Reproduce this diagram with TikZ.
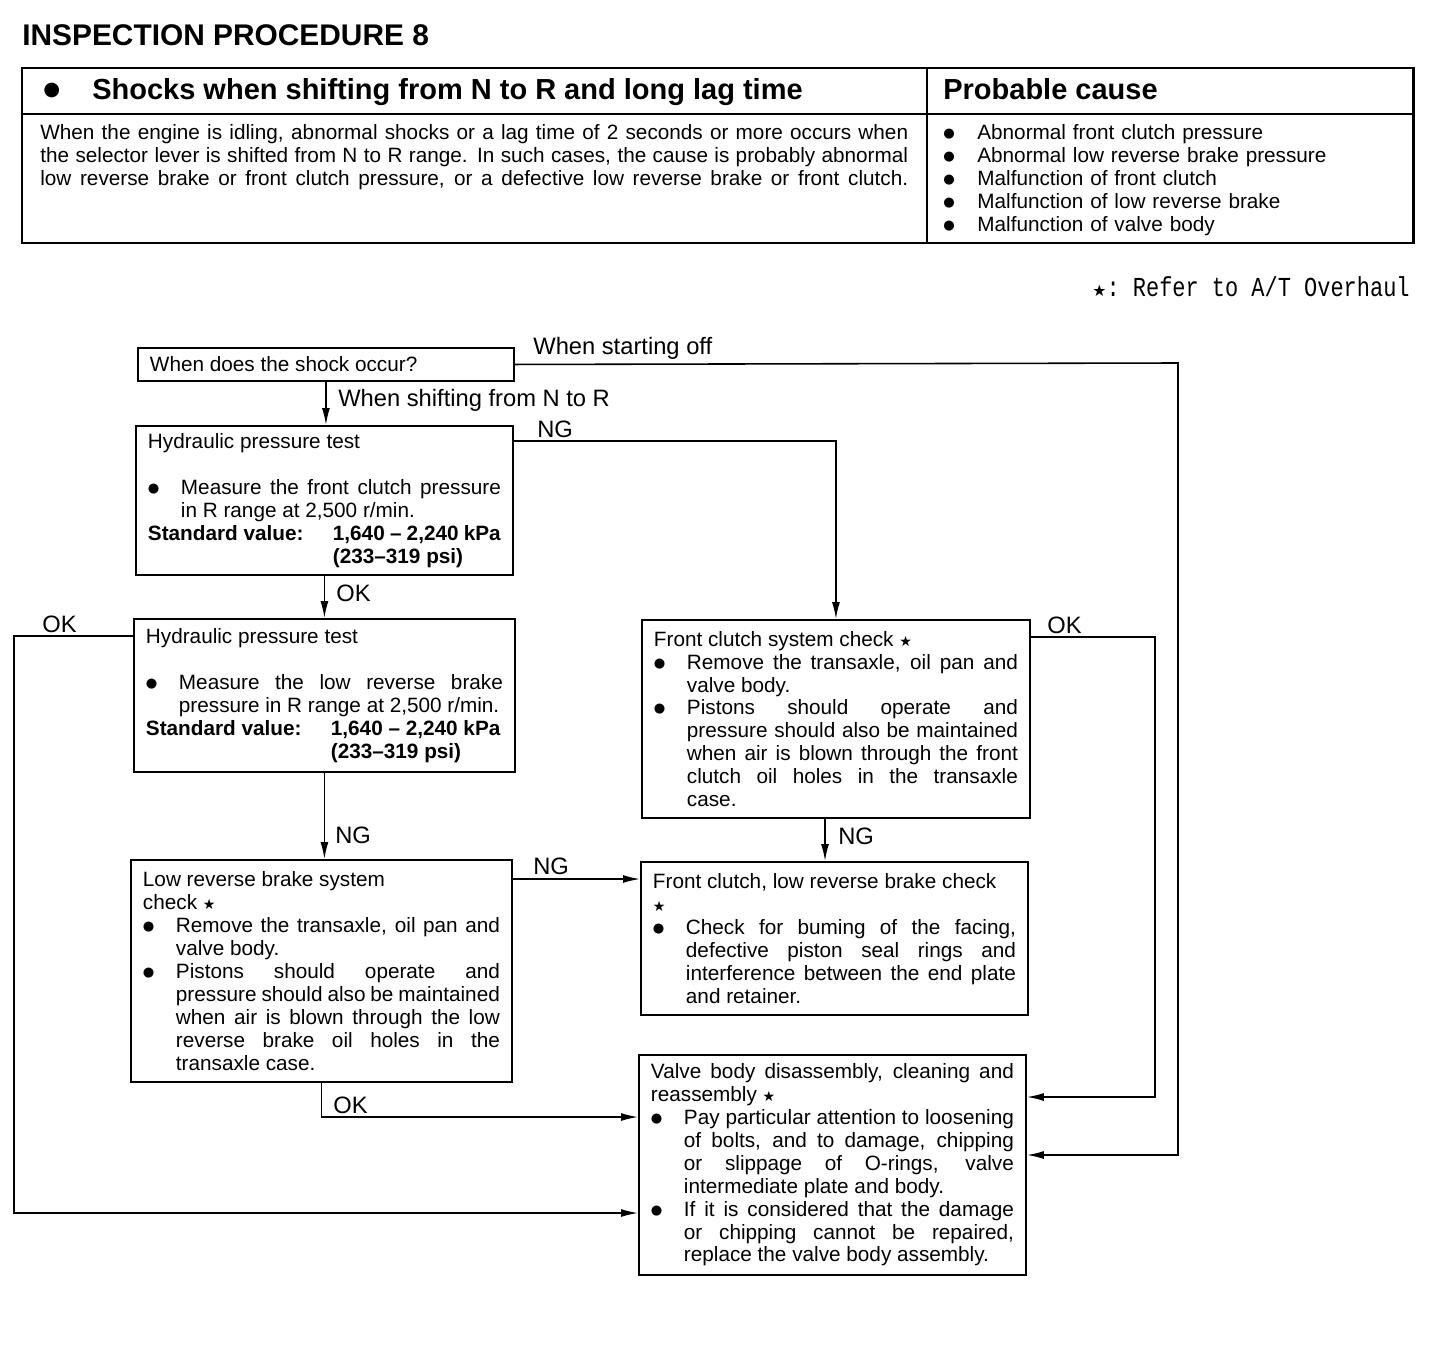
\documentclass[tikz,border=0pt]{standalone}
\usepackage{fontspec}
\setmainfont{Liberation Sans}
\setmonofont{Liberation Mono}
\newfontfamily\symfont{DejaVu Sans}
\usetikzlibrary{arrows.meta,calc}
\setlength{\parindent}{0pt}
\newcommand{\refstar}{{\symfont\fontsize{8}{8}\selectfont ★}}
\newcommand{\bdot}{\raisebox{1.1pt}{\symfont\fontsize{7.5}{7.5}\selectfont ●}}
\newcommand{\bitem}{\par\noindent\hangindent=0.66cm\hangafter=1\makebox[0.66cm][l]{\bdot}\ignorespaces}
\newcommand{\stdval}{\par\noindent\makebox[3.7cm][l]{\textbf{Standard value:}}\textbf{1,640 – 2,240 kPa}\\\hspace*{3.7cm}\textbf{(233–319 psi)}}

\begin{document}
\begin{tikzpicture}[x=0.02cm,y=-0.02cm,
  box/.style={draw,line width=1.1pt,anchor=north west,inner xsep=0.24cm,inner ysep=0pt,
    align=justify,font=\fontsize{11.8}{13.04}\selectfont},
  lbl/.style={anchor=base west,inner sep=0pt,font=\fontsize{13.5}{16}\selectfont},
  flow/.style={line width=0.9pt,-{Latex[length=0.34cm,width=0.16cm]}}]
\useasboundingbox (0,0) rectangle (1456,1362);
% heading and table
\node[anchor=base west,inner sep=0pt,font=\fontsize{17}{20}\selectfont\bfseries] (title) at (22,46) {INSPECTION\ PROCEDURE\ 8};
\draw[line width=1.7pt] (22,68) rectangle (1413,243);
\draw[line width=1pt] (22,114) -- (1413,114);
\draw[line width=1pt] (927,68) -- (927,243);
\node[anchor=base west,inner sep=0pt,font=\fontsize{16.5}{20}\selectfont\bfseries] (symptom) at (43,99) {\makebox[0.98cm][l]{\raisebox{1.8pt}{\symfont\fontsize{11}{11}\selectfont ●}}Shocks when shifting from N to R and long lag time};
\node[anchor=base west,inner sep=0pt,font=\fontsize{16.5}{20}\selectfont\bfseries] (cause) at (943,99) {Probable cause};
\node[anchor=north west,inner sep=0pt,text width=17.36cm,align=justify,font=\fontsize{11.8}{13.04}\selectfont] (descr) at (40,124)
  {\parfillskip=0pt When the engine is idling, abnormal shocks or a lag time of 2 seconds or more occurs when\linebreak
   the selector lever is shifted from N to R range. In such cases, the cause is probably abnormal\linebreak
   low reverse brake or front clutch pressure, or a defective low reverse brake or front clutch.\par};
\node[anchor=north west,inner sep=0pt,text width=9.2cm,align=left,font=\fontsize{11.8}{13.04}\selectfont] (causes) at (943,124)
  {\makebox[0.68cm][l]{\bdot}Abnormal front clutch pressure\\
   \makebox[0.68cm][l]{\bdot}Abnormal low reverse brake pressure\\
   \makebox[0.68cm][l]{\bdot}Malfunction of front clutch\\
   \makebox[0.68cm][l]{\bdot}Malfunction of low reverse brake\\
   \makebox[0.68cm][l]{\bdot}Malfunction of valve body};
\node[anchor=base east,inner sep=0pt] (note) at (1410,296)
  {{\symfont\fontsize{9}{9}\selectfont ★}\scalebox{1}[1.25]{\ttfamily\fontsize{12.5}{14}\selectfont : Refer to A/T Overhaul}};
% flowchart boxes
\node[box,text width=7.04cm,minimum height=0.66cm] (when) at (137,347) {When does the shock occur?};
\node[box,text width=7.06cm,minimum height=2.98cm] (hp1) at (135,425)
  {Hydraulic pressure test\par\mbox{}
   \bitem Measure the front clutch pressure\linebreak in R range at 2,500 r/min.
   \stdval\par};
\node[box,text width=7.14cm,minimum height=3.06cm] (hp2) at (133,618)
  {Hydraulic pressure test\par\mbox{}
   \bitem Measure the low reverse brake\linebreak pressure in R range at 2,500 r/min.
   \stdval\par};
\node[box,text width=7.14cm,minimum height=4.44cm] (lrb) at (130,859)
  {Low reverse brake system\\ check \refstar
   \bitem Remove the transaxle, oil pan and\linebreak valve body.
   \bitem Pistons should operate and\linebreak pressure should also be maintained\linebreak
   when air is blown through the low\linebreak reverse brake oil holes in the\linebreak transaxle case.\par};
\node[box,text width=7.28cm,minimum height=3.96cm] (fcs) at (641,619)
  {Front clutch system check \refstar
   \bitem Remove the transaxle, oil pan and\linebreak valve body.
   \bitem Pistons should operate and\linebreak pressure should also be maintained\linebreak
   when air is blown through the front\linebreak clutch oil holes in the transaxle\linebreak case.\par};
\node[box,text width=7.26cm,minimum height=3.06cm] (fclr) at (640,861)
  {Front clutch, low reverse brake check\\ \refstar
   \bitem Check for buming of the facing,\linebreak defective piston seal rings and\linebreak
   interference between the end plate\linebreak and retainer.\par};
\node[box,text width=7.26cm,minimum height=4.40cm] (vb) at (638,1054)
  {Valve body disassembly, cleaning and\linebreak reassembly \refstar
   \bitem Pay particular attention to loosening\linebreak of bolts, and to damage, chipping\linebreak
   or slippage of O-rings, valve\linebreak intermediate plate and body.
   \bitem If it is considered that the damage\linebreak or chipping cannot be repaired,\linebreak
   replace the valve body assembly.\par};
% connectors
\coordinate (startR) at (1178,363);
\coordinate (okL) at (14,636);
\coordinate (okR) at (1155,637);
\coordinate (fcsB) at ($(fcs.south west)+(184,0)$);
\draw[flow] (when.east) -- (startR) |- ($(vb.north east)+(0,101)$);
\draw[flow] (when.south) -- (when.south |- hp1.north);
\draw[flow] ($(hp1.north east)+(0,16)$) -| (fcs.north);
\draw[flow] (hp1.south) -- (hp1.south |- hp2.north);
\draw[flow] ($(hp2.north west)+(0,18)$) -- (okL) |- ($(vb.north west)+(0,159)$);
\draw[flow] (hp2.south) -- (hp2.south |- lrb.north);
\draw[flow] ($(lrb.north east)+(0,20)$) -- ($(fclr.north west)+(0,18)$);
\draw[flow] (lrb.south) |- ($(vb.north west)+(0,63)$);
\draw[flow] (fcsB) -- (fcsB |- fclr.north);
\draw[flow] ($(fcs.north east)+(0,18)$) -- (okR) |- ($(vb.north east)+(0,43)$);
% branch labels
\node[lbl] (startlbl) at (533,354) {When starting off};
\node[lbl] (shiftlbl) at (338,406) {When shifting from N to R};
\node[lbl] (ng1) at (537,437) {NG};
\node[lbl] (ok1) at (336,601) {OK};
\node[lbl] (ok2) at (42,632) {OK};
\node[lbl] (ok4) at (1047,633) {OK};
\node[lbl] (ng2) at (335,843) {NG};
\node[lbl] (ng4) at (838,844) {NG};
\node[lbl] (ng3) at (533,874) {NG};
\node[lbl] (ok3) at (333,1113) {OK};
\end{tikzpicture}
\end{document}
